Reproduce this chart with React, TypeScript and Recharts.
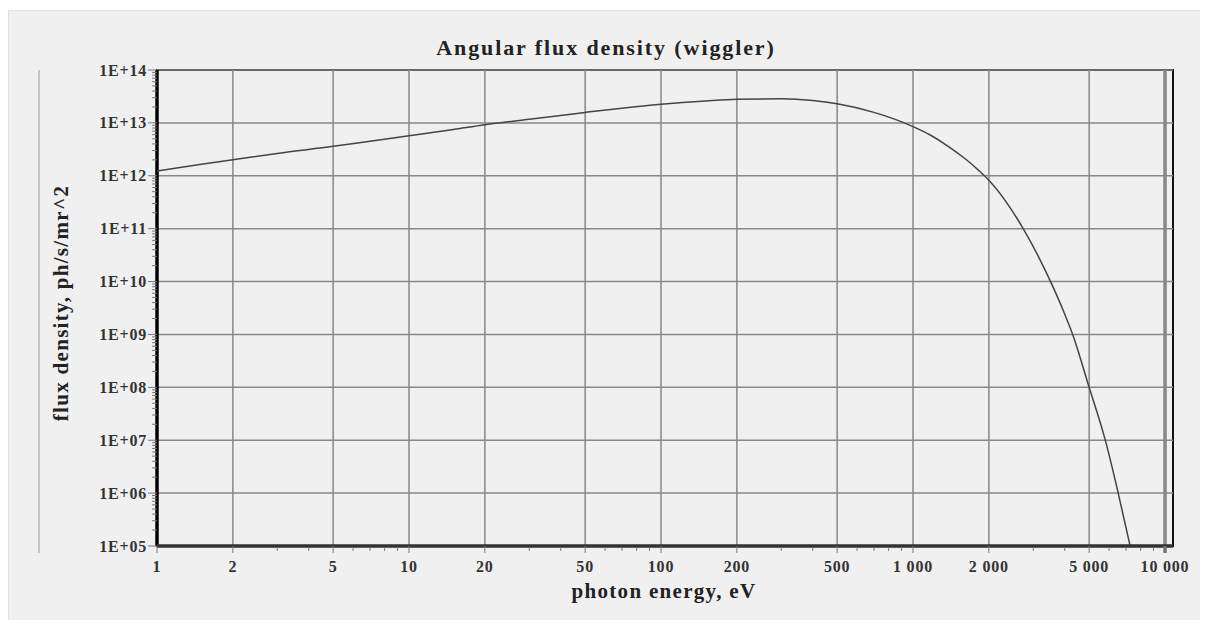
import React from 'react';
import { ComposedChart, Line, XAxis, YAxis, ReferenceLine, ReferenceArea } from 'recharts';

// photon energy (eV) and angular flux density (ph/s/mr^2)
const energy = [
  1, 1.5, 2, 3, 5, 7, 10, 15, 20, 30, 50, 70, 100, 150, 200, 300, 400, 500, 700, 1000,
  1170, 1370, 1620, 1830, 2000, 2360, 2740, 3080, 3500, 3950, 4300, 5000, 5830, 6500, 7270,
];
const flux = [
  1.23e12, 1.65e12, 2.0e12, 2.65e12, 3.6e12, 4.5e12, 5.7e12, 7.5e12, 9.2e12, 1.17e13,
  1.58e13, 1.9e13, 2.25e13, 2.6e13, 2.8e13, 2.85e13, 2.65e13, 2.3e13, 1.58e13, 8.5e12,
  5.9e12, 3.69e12, 2.05e12, 1.24e12, 8.2e11, 3.04e11, 9.9e10, 3.6e10, 1.04e10, 2.8e9,
  1e9, 1e8, 9e6, 1.07e6, 1e5,
];

const xMajor = [1, 2, 5, 10, 20, 50, 100, 200, 500, 1000, 2000, 5000, 10000];
const xMinor = [3, 4, 6, 7, 8, 9, 30, 40, 60, 70, 80, 90, 300, 400, 600, 700, 800, 900, 3000, 4000, 6000, 7000, 8000, 9000];
const yMajor = [1e5, 1e6, 1e7, 1e8, 1e9, 1e10, 1e11, 1e12, 1e13, 1e14];
const yMinorFactors = [2, 3, 4, 5, 6, 7, 8, 9];

const data = energy.map((e, i) => ({ e, f: flux[i] }));
const yMinor = yMajor.slice(0, -1).flatMap((d) => yMinorFactors.map((k) => k * d));

const X_MAX = 10757; // plot box runs a bit past 10 000
const FONT = '"Liberation Serif", "Times New Roman", serif';

const fmtX = (v: number) => (v >= 1000 ? v.toLocaleString('en-US').replace(/,/g, ' ') : String(v));
const fmtY = (v: number) => {
  const exp = Math.round(Math.log10(v));
  return `1E+${String(exp).padStart(2, '0')}`;
};

const XTick = (props: any) => {
  const { x, y, payload } = props;
  const v = payload.value;
  if (!xMajor.includes(v)) {
    return <line x1={x} x2={x} y1={y + 1} y2={y + 5} stroke="#777" strokeWidth={1} />;
  }
  return (
    <g>
      <line x1={x} x2={x} y1={y} y2={y + 7} stroke="#777" strokeWidth={v === 10000 ? 3.5 : 1} />
      <text x={x} y={y + 26} textAnchor="middle" fontFamily={FONT} fontWeight="bold" fontSize={16} letterSpacing={0.8} fill="#333">
        {fmtX(v)}
      </text>
    </g>
  );
};

const YTick = (props: any) => {
  const { x, y, payload } = props;
  const v = payload.value;
  if (!yMajor.includes(v)) {
    return <line x1={x - 5} x2={x} y1={y} y2={y} stroke="#777" strokeWidth={1} />;
  }
  return (
    <g>
      <line x1={x - 9} x2={x} y1={y} y2={y} stroke="#777" strokeWidth={1} />
      <text x={x - 10} y={y + 5.5} textAnchor="end" fontFamily={FONT} fontWeight="bold" fontSize={16} letterSpacing={0.8} fill="#333">
        {fmtY(v)}
      </text>
    </g>
  );
};

export default function App() {
  return (
    <div style={{ position: 'relative', width: 1198, height: 610, marginTop: 2, background: '#f0f0f0' }}>
      <div style={{ position: 'absolute', left: 0, top: 0, width: 1195, height: 609, borderLeft: '1px solid #e2e2e2', borderTop: '1px solid #e2e2e2' }} />
      <div style={{ position: 'absolute', left: 1195, top: 0, width: 1, height: 610, background: '#d8d8d8' }} />
      <div style={{ position: 'absolute', left: 1197, top: 0, width: 2, height: 610, background: '#9a9a9a' }} />
      <div style={{ position: 'absolute', left: 0 }}>
        <ComposedChart width={1190} height={610} data={data} margin={{ top: 60, right: 25, bottom: 44, left: 49 }}>
          <XAxis
            dataKey="e"
            type="number"
            scale="log"
            domain={[1, X_MAX]}
            ticks={[...xMajor, ...xMinor]}
            interval={0}
            allowDataOverflow
            tick={<XTick />}
            tickLine={false}
            tickSize={0}
            tickMargin={0}
            height={30}
            axisLine={{ stroke: '#333', strokeWidth: 3 }}
          />
          <YAxis
            type="number"
            scale="log"
            domain={[1e5, 1e14]}
            ticks={[...yMajor, ...yMinor]}
            interval={0}
            allowDataOverflow
            tick={<YTick />}
            tickLine={false}
            tickSize={0}
            tickMargin={0}
            width={100}
            axisLine={false}
          />
          {xMajor.map((v) => (
            <ReferenceLine key={'gx' + v} x={v} stroke="#888" strokeWidth={v === 10000 ? 3.5 : 1.5} />
          ))}
          {yMajor.map((v) => (
            <ReferenceLine key={'gy' + v} y={v} stroke="#888" strokeWidth={1.5} />
          ))}
          <ReferenceArea x1={1} x2={X_MAX} y1={1e5} y2={1e14} fill="none" stroke="#111" strokeWidth={2} />
          <ReferenceLine x={1} stroke="#000" strokeWidth={3.5} />
          <ReferenceLine y={1e5} stroke="#333" strokeWidth={3} />
          <Line dataKey="f" type="monotone" stroke="#444" strokeWidth={1.5} dot={false} isAnimationActive={false} />
        </ComposedChart>
      </div>
      <svg width={1198} height={610} style={{ position: 'absolute', left: 0, top: 0, pointerEvents: 'none' }}>
        <line x1={31} x2={31} y1={60} y2={543} stroke="#999" strokeWidth={1} />
        <text x={598} y={45} textAnchor="middle" fontFamily={FONT} fontWeight="bold" fontSize={22} letterSpacing={1.9} fill="#222">
          Angular flux density (wiggler)
        </text>
        <text x={656} y={588} textAnchor="middle" fontFamily={FONT} fontWeight="bold" fontSize={21} letterSpacing={1.3} fill="#222">
          photon energy, eV
        </text>
        <text transform="translate(60, 293) rotate(-90)" textAnchor="middle" fontFamily={FONT} fontWeight="bold" fontSize={21} letterSpacing={1.3} fill="#222">
          flux density, ph/s/mr^2
        </text>
      </svg>
    </div>
  );
}
